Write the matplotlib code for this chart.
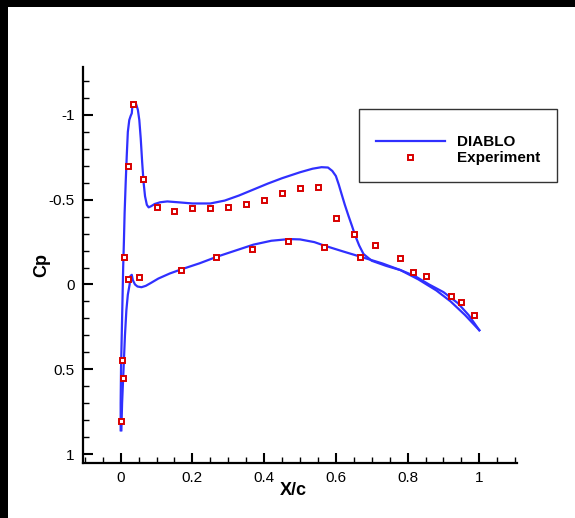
import numpy as np
import matplotlib
matplotlib.use("Agg")
import matplotlib.pyplot as plt
from matplotlib.patches import Rectangle
from matplotlib.ticker import MultipleLocator, FormatStrFormatter

plt.rcParams['font.family'] = ['Liberation Sans', 'DejaVu Sans']
plt.rcParams['axes.unicode_minus'] = False

# DIABLO - superficie superior
x_sup = [0.000, 0.000, 0.001, 0.003, 0.005, 0.007, 0.009, 0.011, 0.014, 0.017,
         0.020, 0.024, 0.028, 0.031, 0.033, 0.037, 0.043, 0.048, 0.052, 0.056,
         0.060, 0.064, 0.068, 0.073, 0.078, 0.085, 0.095, 0.11, 0.13, 0.16,
         0.20, 0.25, 0.29, 0.33, 0.37, 0.41, 0.45, 0.50, 0.535, 0.56,
         0.578, 0.59, 0.60, 0.608, 0.616, 0.625, 0.635, 0.645, 0.654, 0.665,
         0.677, 0.70, 0.74, 0.78, 0.82, 0.86, 0.90, 0.94, 0.97, 1.0]
cp_sup = [0.86, 0.70, 0.50, 0.30, 0.10, -0.10, -0.25, -0.42, -0.60, -0.76,
          -0.90, -0.97, -0.995, -1.01, -1.06, -1.075, -1.065, -1.03, -0.97, -0.86,
          -0.72, -0.60, -0.52, -0.47, -0.455, -0.462, -0.475, -0.485, -0.49, -0.485,
          -0.478, -0.478, -0.495, -0.525, -0.56, -0.595, -0.627, -0.662, -0.683, -0.692,
          -0.69, -0.67, -0.64, -0.59, -0.533, -0.47, -0.406, -0.345, -0.288, -0.23,
          -0.18, -0.14, -0.11, -0.085, -0.05, 0.0, 0.045, 0.11, 0.18, 0.27]

# DIABLO - superficie inferior
x_inf = [0.002, 0.004, 0.008, 0.012, 0.016, 0.020, 0.025, 0.027, 0.031, 0.034,
         0.040, 0.047, 0.058, 0.070, 0.085, 0.105, 0.137, 0.17, 0.22, 0.27,
         0.32, 0.37, 0.42, 0.47, 0.50, 0.54, 0.57, 0.62, 0.67, 0.73,
         0.78, 0.83, 0.88, 0.92, 0.96, 1.0]
cp_inf = [0.86, 0.70, 0.50, 0.30, 0.15, 0.06, 0.0, -0.05, -0.057, -0.025,
          0.0, 0.012, 0.016, 0.008, -0.01, -0.035, -0.065, -0.09, -0.125, -0.165,
          -0.20, -0.235, -0.258, -0.268, -0.266, -0.25, -0.228, -0.195, -0.163, -0.124,
          -0.085, -0.03, 0.035, 0.10, 0.18, 0.27]

# Experimento
x_exp_sup = [0.001, 0.006, 0.003, 0.009, 0.020, 0.034, 0.061, 0.10, 0.15, 0.20,
             0.25, 0.30, 0.35, 0.40, 0.45, 0.50, 0.55, 0.60, 0.65, 0.71,
             0.78, 0.85, 0.92, 0.95, 0.986]
cp_exp_sup = [0.804, 0.553, 0.447, -0.165, -0.70, -1.063, -0.624, -0.459, -0.435, -0.449,
              -0.453, -0.457, -0.475, -0.498, -0.541, -0.57, -0.574, -0.392, -0.30, -0.231,
              -0.155, -0.053, 0.065, 0.106, 0.18]
x_exp_inf = [0.020, 0.050, 0.167, 0.265, 0.366, 0.467, 0.567, 0.667, 0.816]
cp_exp_inf = [-0.03, -0.043, -0.088, -0.161, -0.21, -0.257, -0.224, -0.165, -0.075]

fig = plt.figure(figsize=(5.75, 5.18), dpi=100, facecolor='black')
fig.patches.append(Rectangle((8 / 575, 0), 1, 1 - 7 / 518, transform=fig.transFigure,
                             facecolor='white', edgecolor='none', zorder=-10))

ax = fig.add_axes([83 / 575, 1 - 463 / 518, 434 / 575, 396 / 518])
ax.set_facecolor('none')

azul = '#3030ff'
rojo = '#d80000'
ax.plot(x_sup, cp_sup, color=azul, lw=1.6, label='DIABLO', zorder=2)
ax.plot(x_inf, cp_inf, color=azul, lw=1.6, zorder=2)
ax.plot(np.concatenate([x_exp_sup, x_exp_inf]), np.concatenate([cp_exp_sup, cp_exp_inf]),
        ls='none', marker='s', ms=3.6, mfc='white', mec=rojo, mew=1.4,
        label='Experiment', zorder=3)

ax.set_xlim(-0.105, 1.105)
ax.set_ylim(1.053, -1.283)

ax.xaxis.set_major_locator(MultipleLocator(0.2))
ax.xaxis.set_minor_locator(MultipleLocator(0.05))
ax.yaxis.set_major_locator(MultipleLocator(0.5))
ax.yaxis.set_minor_locator(MultipleLocator(0.1))
ax.xaxis.set_major_formatter(FormatStrFormatter('%g'))
ax.yaxis.set_major_formatter(FormatStrFormatter('%g'))

for lado in ['top', 'right']:
    ax.spines[lado].set_visible(False)
for lado in ['left', 'bottom']:
    ax.spines[lado].set_linewidth(1.6)

ax.tick_params(which='major', direction='in', length=7.5, width=1.5, labelsize=11, pad=6)
ax.tick_params(which='minor', direction='in', length=4.5, width=1.0)

ax.set_xlabel('X/c', fontsize=13, fontweight='bold')
ax.set_ylabel('Cp', fontsize=13, fontweight='bold')
ax.xaxis.set_label_coords(0.484, -0.0707, transform=ax.transAxes)
ax.yaxis.set_label_coords(-0.0945, 0.5, transform=ax.transAxes)
ax.xaxis.label.set_va('center')
ax.yaxis.label.set_va('center')

# titulo vacio para dejar mas espacio arriba, como en la figura original
leg = ax.legend(loc='upper left', bbox_to_anchor=(359 / 575, 1 - 109 / 518),
                bbox_transform=fig.transFigure, borderaxespad=0,
                prop={'weight': 'bold', 'size': 11}, frameon=True, fancybox=False,
                edgecolor='black', handlelength=4.5, handletextpad=0.8,
                borderpad=1.1, labelspacing=0.15, numpoints=1,
                title=' ', title_fontsize=6)
leg.get_frame().set_linewidth(1.0)

fig.savefig('out.png', dpi=100, facecolor=fig.get_facecolor())
